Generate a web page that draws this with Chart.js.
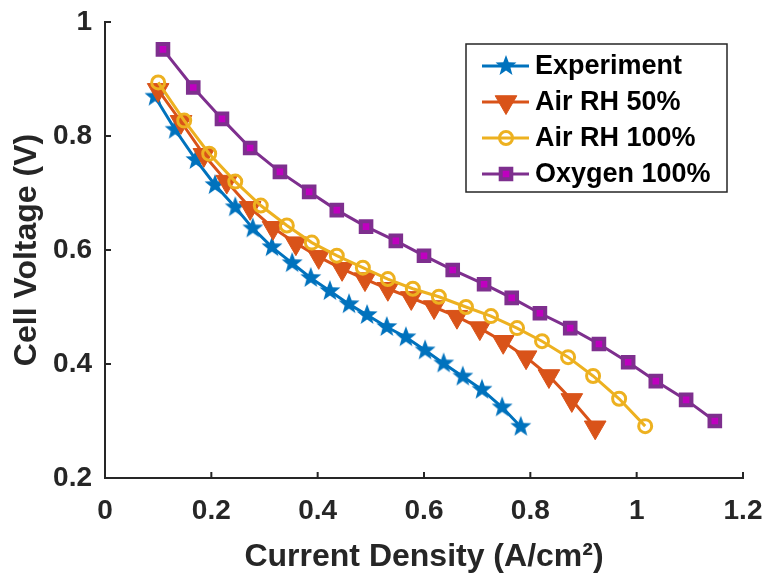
<!DOCTYPE html>
<html>
<head>
<meta charset="utf-8">
<script src="https://cdn.jsdelivr.net/npm/chart.js@4"></script>
<style>
  body { margin: 0; background: #fff; }
</style>
</head>
<body>
<canvas id="myChart" width="764" height="580"></canvas>
<script>
// polarization curves
var seriesNames = ["Experiment", "Air RH 50%", "Air RH 100%", "Oxygen 100%"];

var expCurrent = [0.094, 0.132, 0.171, 0.207, 0.245, 0.278, 0.314, 0.352, 0.387, 0.423, 0.459, 0.493, 0.530, 0.566, 0.602, 0.637, 0.673, 0.709, 0.747, 0.782];
var expVoltage = [0.869, 0.811, 0.758, 0.714, 0.675, 0.638, 0.605, 0.577, 0.551, 0.528, 0.505, 0.486, 0.465, 0.447, 0.424, 0.401, 0.378, 0.355, 0.324, 0.290];

var rh50Current = [0.100, 0.143, 0.186, 0.229, 0.273, 0.316, 0.359, 0.402, 0.446, 0.489, 0.532, 0.576, 0.619, 0.662, 0.705, 0.749, 0.792, 0.835, 0.878, 0.922];
var rh50Voltage = [0.881, 0.825, 0.767, 0.720, 0.674, 0.639, 0.612, 0.588, 0.567, 0.549, 0.532, 0.516, 0.500, 0.483, 0.463, 0.439, 0.412, 0.379, 0.337, 0.289];

var rh100Current = [0.100, 0.149, 0.196, 0.245, 0.293, 0.342, 0.389, 0.436, 0.485, 0.532, 0.579, 0.628, 0.679, 0.726, 0.775, 0.822, 0.871, 0.918, 0.967, 1.016];
var rh100Voltage = [0.894, 0.827, 0.769, 0.720, 0.678, 0.643, 0.613, 0.590, 0.569, 0.549, 0.532, 0.518, 0.500, 0.484, 0.463, 0.440, 0.412, 0.379, 0.339, 0.291];

var o2Current = [0.109, 0.166, 0.220, 0.273, 0.329, 0.384, 0.436, 0.491, 0.547, 0.600, 0.654, 0.713, 0.765, 0.818, 0.875, 0.929, 0.984, 1.036, 1.093, 1.147];
var o2Voltage = [0.952, 0.885, 0.830, 0.779, 0.737, 0.702, 0.670, 0.641, 0.616, 0.590, 0.565, 0.540, 0.516, 0.489, 0.463, 0.435, 0.403, 0.370, 0.337, 0.300];

var xTicks = [0, 0.2, 0.4, 0.6, 0.8, 1, 1.2];
var yTicks = [0.2, 0.4, 0.6, 0.8, 1];

function toPoints(xs, ys) {
  return xs.map(function (x, i) { return { x: x, y: ys[i] }; });
}

// filled five point star like matlab's pentagram marker
function starImage(color, r) {
  var c = document.createElement("canvas");
  var s = Math.ceil(r * 2 + 2);
  c.width = s;
  c.height = s;
  var g = c.getContext("2d");
  g.fillStyle = color;
  g.beginPath();
  for (var i = 0; i < 10; i++) {
    var rr = i % 2 ? r * 0.42 : r;
    var a = -Math.PI / 2 + i * Math.PI / 5;
    g.lineTo(s / 2 + rr * Math.cos(a), s / 2 + rr * Math.sin(a));
  }
  g.closePath();
  g.fill();
  return c;
}

var axisColor = "#262626";
var fontFamily = "'Liberation Sans', Arial, sans-serif";

function tickText(v) {
  return String(Math.round(v * 10) / 10);
}

// matlab style ticks pointing into the plot
var inwardTicks = {
  id: "inwardTicks",
  beforeDatasetsDraw: function (chart) {
    var ctx = chart.ctx;
    var xs = chart.scales.x, ys = chart.scales.y;
    var area = chart.chartArea;
    ctx.save();
    ctx.strokeStyle = axisColor;
    ctx.lineWidth = 2;
    ctx.beginPath();
    xs.ticks.forEach(function (t) {
      var px = xs.getPixelForValue(t.value);
      ctx.moveTo(px, area.bottom);
      ctx.lineTo(px, area.bottom - 6);
    });
    ys.ticks.forEach(function (t) {
      var py = ys.getPixelForValue(t.value);
      ctx.moveTo(area.left, py);
      ctx.lineTo(area.left + 6, py);
    });
    ctx.stroke();
    ctx.restore();
  },
};

// boxed legend in the upper right of the axes
var boxLegend = {
  id: "boxLegend",
  afterDraw: function (chart) {
    var ctx = chart.ctx;
    var bx = 466, by = 44, bw = 261, bh = 148;
    ctx.save();
    ctx.fillStyle = "#fff";
    ctx.fillRect(bx, by, bw, bh);
    ctx.strokeStyle = axisColor;
    ctx.lineWidth = 1.5;
    ctx.strokeRect(bx, by, bw, bh);

    chart.data.datasets.forEach(function (ds, i) {
      var y = by + 22 + i * 36;
      ctx.strokeStyle = ds.borderColor;
      ctx.lineWidth = ds.borderWidth;
      ctx.beginPath();
      ctx.moveTo(bx + 16, y);
      ctx.lineTo(bx + 63, y);
      ctx.stroke();

      ctx.fillStyle = ds.pointBackgroundColor;
      ctx.strokeStyle = ds.pointBorderColor;
      ctx.lineWidth = ds.pointBorderWidth;
      Chart.helpers.drawPoint(ctx, {
        pointStyle: ds.pointStyle,
        rotation: ds.pointRotation || 0,
        radius: ds.pointRadius,
        borderWidth: ds.pointBorderWidth,
      }, bx + 40, y);

      ctx.fillStyle = "#000";
      ctx.font = "bold 27px " + fontFamily;
      ctx.textBaseline = "middle";
      ctx.textAlign = "left";
      ctx.fillText(ds.label, bx + 69, y + 1);
    });
    ctx.restore();
  },
};

var ctx = document.getElementById("myChart").getContext("2d");

var myChart = new Chart(ctx, {
  type: "scatter",
  data: {
    datasets: [
      {
        label: seriesNames[0],
        data: toPoints(expCurrent, expVoltage),
        showLine: true,
        borderColor: "#0072BD",
        borderWidth: 3,
        pointStyle: starImage("#0072BD", 11),
        pointRadius: 11,
        pointBackgroundColor: "#0072BD",
        pointBorderColor: "#0072BD",
        pointBorderWidth: 0,
        order: 4,
      },
      {
        label: seriesNames[1],
        data: toPoints(rh50Current, rh50Voltage),
        showLine: true,
        borderColor: "#D95319",
        borderWidth: 3,
        pointStyle: "triangle",
        pointRotation: 180,
        pointRadius: 12.5,
        pointBackgroundColor: "#D95319",
        pointBorderColor: "#D95319",
        pointBorderWidth: 1,
        order: 3,
      },
      {
        label: seriesNames[2],
        data: toPoints(rh100Current, rh100Voltage),
        showLine: true,
        borderColor: "#EDB120",
        borderWidth: 3,
        pointStyle: "circle",
        pointRadius: 6.5,
        pointBackgroundColor: "rgba(0,0,0,0)",
        pointBorderColor: "#EDB120",
        pointBorderWidth: 3,
        order: 2,
      },
      {
        label: seriesNames[3],
        data: toPoints(o2Current, o2Voltage),
        showLine: true,
        borderColor: "#7E2F8E",
        borderWidth: 3,
        pointStyle: "rect",
        pointRadius: 7.5,
        pointBackgroundColor: "#BF00BF",
        pointBorderColor: "#7E2F8E",
        pointBorderWidth: 4,
        order: 1,
      },
    ],
  },
  options: {
    responsive: false,
    animation: false,
    events: [],
    layout: {
      padding: { top: 22, right: 21, left: 0, bottom: 0 },
    },
    plugins: {
      legend: { display: false },
      tooltip: { enabled: false },
    },
    scales: {
      x: {
        type: "linear",
        min: 0,
        max: 1.2,
        afterBuildTicks: function (scale) {
          scale.ticks = xTicks.map(function (v) { return { value: v }; });
        },
        afterFit: function (scale) {
          scale.height = 102;
          scale.paddingRight = 0;
          scale.paddingLeft = 0;
        },
        grid: { display: false, drawTicks: false },
        border: { display: true, color: axisColor, width: 2 },
        ticks: {
          padding: 16,
          color: axisColor,
          maxRotation: 0,
          callback: tickText,
          font: { family: fontFamily, size: 28, weight: "bold" },
        },
        title: {
          display: true,
          text: "Current Density (A/cm²)",
          color: axisColor,
          padding: { top: 0, bottom: 4 },
          font: { family: fontFamily, size: 32, weight: "bold" },
        },
      },
      y: {
        type: "linear",
        min: 0.2,
        max: 1,
        afterBuildTicks: function (scale) {
          scale.ticks = yTicks.map(function (v) { return { value: v }; });
        },
        afterFit: function (scale) {
          scale.width = 105;
          scale.paddingTop = 0;
          scale.paddingBottom = 0;
        },
        grid: { display: false, drawTicks: false },
        border: { display: true, color: axisColor, width: 2 },
        ticks: {
          padding: 13,
          color: axisColor,
          callback: tickText,
          font: { family: fontFamily, size: 28, weight: "bold" },
        },
        title: {
          display: true,
          text: "Cell Voltage (V)",
          color: axisColor,
          padding: { top: 8, bottom: 0 },
          font: { family: fontFamily, size: 32, weight: "bold" },
        },
      },
    },
  },
  plugins: [inwardTicks, boxLegend],
});
</script>
</body>
</html>
